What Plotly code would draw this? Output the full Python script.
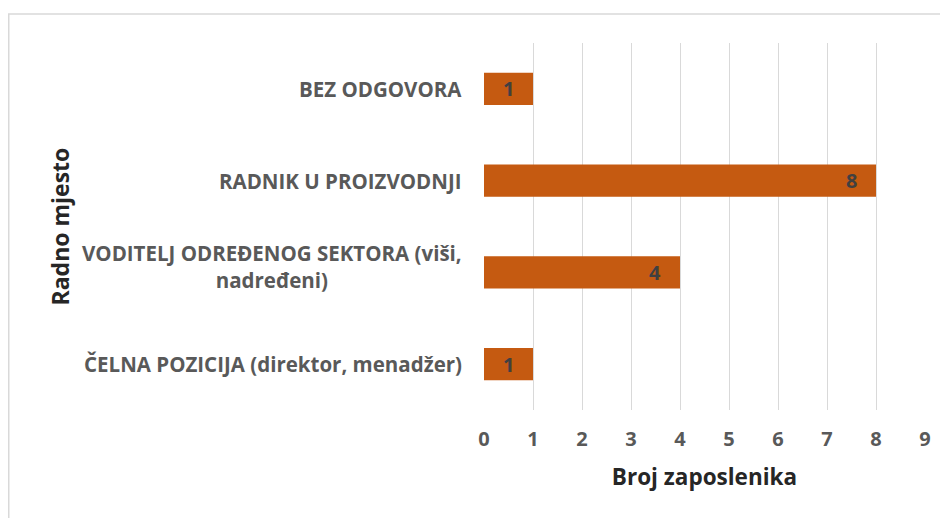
import plotly.graph_objects as go

categories = [
    "ČELNA POZICIJA (direktor, menadžer)",
    "VODITELJ ODREĐENOG SEKTORA (viši,<br>nadređeni)",
    "RADNIK U PROIZVODNJI",
    "BEZ ODGOVORA",
]
values = [1, 4, 8, 1]
x_ticks = list(range(0, 10))

FONT = "Open Sans"
BAR = "#C55A11"
LBL = "#595959"
DAT = "#404040"
TITLE = "#262626"

# the page body adds 8px offset; figure is 940x510 so it fills the 948x518 window
W, H = 940, 510
L, R, T, B = 476, 23, 35, 108
PW = W - L - R
PH = H - T - B

fig = go.Figure()
fig.add_trace(go.Bar(
    x=values, y=categories, orientation="h",
    marker=dict(color=BAR, line=dict(width=0)),
    hoverinfo="skip",
))

annotations = []
for c, v in zip(categories, values):
    annotations.append(dict(
        x=v, y=c, xref="x", yref="y", text=f"<b>{v}</b>", showarrow=False,
        xanchor="right", xshift=-17, font=dict(family=FONT, size=20, color=DAT),
    ))
    lines = c.split("<br>")
    label = "<br>".join(f"<b>{ln}</b>" for ln in lines)
    annotations.append(dict(
        x=0, y=c, xref="paper", yref="y", text=label, showarrow=False,
        xanchor="right", yanchor="middle", align="center", xshift=-20,
        yshift=6 if len(lines) > 1 else 0,
        font=dict(family=FONT, size=20.5, color=LBL),
    ))
annotations.append(dict(
    x=(51 - L) / PW, y=0.5, xref="paper", yref="paper", text="<b>Radno mjesto</b>",
    showarrow=False, textangle=-90, xanchor="center", yanchor="middle",
    font=dict(family=FONT, size=23, color=TITLE),
))

fig.update_layout(
    width=W, height=H,
    margin=dict(l=L, r=R, t=T, b=B),
    paper_bgcolor="white", plot_bgcolor="white",
    showlegend=False, bargap=0.65,
    annotations=annotations,
    shapes=[dict(type="rect", xref="paper", yref="paper",
                 x0=(0.75 - L) / PW, x1=1.2, y0=-0.5, y1=1 + (T - 6) / PH,
                 line=dict(color="#D9D9D9", width=1.5), layer="below")],
    font=dict(family=FONT),
)
fig.update_xaxes(
    range=[0, 9], tickvals=x_ticks, ticktext=[f"<b>{t}</b>" for t in x_ticks],
    showgrid=True, gridcolor="#D9D9D9", gridwidth=1.3,
    zeroline=False, showline=False,
    ticks="outside", ticklen=11, tickcolor="rgba(0,0,0,0)",
    tickfont=dict(family=FONT, size=20, color=LBL),
    title=dict(text="<b>Broj zaposlenika</b>", standoff=18,
               font=dict(family=FONT, size=22.5, color=TITLE)),
    fixedrange=True,
)
fig.update_yaxes(showticklabels=False, showgrid=False, zeroline=False, showline=False,
                 range=[-0.5, 3.5], fixedrange=True)

fig.write_html("out.html")
